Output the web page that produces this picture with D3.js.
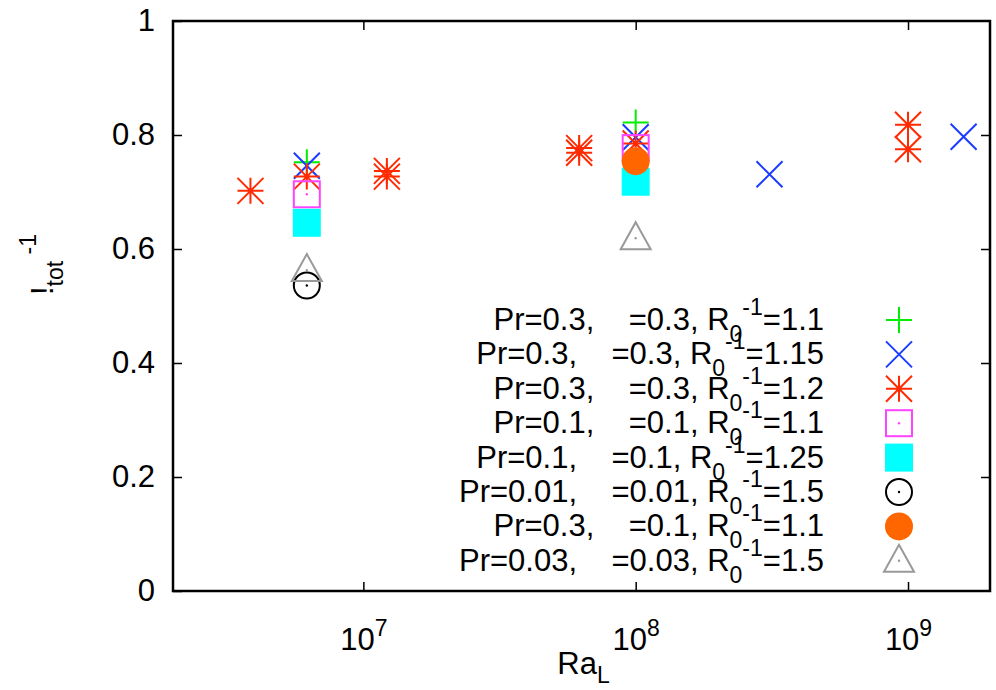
<!DOCTYPE html>
<html>
<head>
<meta charset="utf-8">
<script src="https://cdn.jsdelivr.net/npm/d3@7"></script>
<style>
  body { margin: 0; background: #fff; }
  text { font-family: "Liberation Sans", Arial, Helvetica, sans-serif; fill: #000; white-space: pre; }
</style>
</head>
<body>
<div id="chart"></div>
<script>
// Data: [Ra_L, value]
var plusGreen   = [[6.2e6, 0.752], [1e8, 0.822]];
var crossBlue   = [[6.2e6, 0.746], [1e8, 0.796], [3.1e8, 0.731], [1.6e9, 0.797]];
var starRed     = [[3.85e6, 0.702], [6.2e6, 0.727], [1.22e7, 0.737], [1.22e7, 0.727],
                   [6.2e7, 0.777], [6.2e7, 0.769], [1e8, 0.785], [1e9, 0.818], [1e9, 0.775]];
var boxMagenta  = [[6.2e6, 0.696], [1e8, 0.777]];
var boxCyan     = [[6.2e6, 0.646], [1e8, 0.718]];
var circBlack   = [[6.2e6, 0.536]];
var circOrange  = [[1e8, 0.754]];
var triGrey     = [[6.2e6, 0.563], [1e8, 0.619]];

var legendPr  = ["0.3", "0.3", "0.3", "0.1", "0.1", "0.01", "0.3", "0.03"];
var legendSc  = ["0.3", "0.3", "0.3", "0.1", "0.1", "0.01", "0.1", "0.03"];
var legendR   = ["1.1", "1.15", "1.2", "1.1", "1.25", "1.5", "1.1", "1.5"];

var yTicks = [0, 0.2, 0.4, 0.6, 0.8, 1];
var xTicks = [1e7, 1e8, 1e9];

var svgWidth = 996, svgHeight = 690;
var margin = { top: 21, right: 6, bottom: 99, left: 173 };
var width = svgWidth - margin.left - margin.right;
var height = svgHeight - margin.top - margin.bottom;

var svg = d3.select("#chart").append("svg")
  .attr("width", svgWidth)
  .attr("height", svgHeight);

var g = svg.append("g")
  .attr("transform", `translate(${margin.left}, ${margin.top})`);

var x = d3.scaleLog().domain([2e6, 2e9]).range([0, width]);
var y = d3.scaleLinear().domain([0, 1]).range([height, 0]);

// axes, ticks pointing inward, mirrored on top/right
var fs = 31, fsSmall = 23;
var yAxis = g.append("g")
  .call(d3.axisLeft(y).tickValues(yTicks).tickSizeInner(-9).tickSizeOuter(0).tickPadding(18)
    .tickFormat(d => d === 0 || d === 1 ? d3.format("d")(d) : d3.format(".1f")(d)));
yAxis.selectAll("text").style("font-size", fs + "px");

g.append("g")
  .attr("transform", `translate(${width}, 0)`)
  .call(d3.axisRight(y).tickValues(yTicks.slice(1, -1)).tickSizeInner(-9).tickSizeOuter(0).tickFormat(""));

var xAxis = g.append("g")
  .attr("transform", `translate(0, ${height})`)
  .call(d3.axisBottom(x).tickValues(xTicks).tickSizeInner(-9).tickSizeOuter(0).tickFormat(""));

g.append("g")
  .call(d3.axisTop(x).tickValues(xTicks).tickSizeInner(-9).tickSizeOuter(0).tickFormat(""));

// x tick labels as 10^n
xAxis.selectAll(".tick").each(function (d) {
  var t = d3.select(this).append("text")
    .attr("y", 59)
    .attr("text-anchor", "middle")
    .style("font-size", fs + "px");
  t.append("tspan").text("10");
  t.append("tspan").attr("dy", -14).style("font-size", fsSmall + "px").text(Math.round(Math.log10(d)));
});

svg.selectAll(".domain").attr("stroke", "none");
svg.selectAll(".tick line").attr("stroke", "#000").attr("stroke-width", 1.5);

// frame
g.append("rect")
  .attr("width", width).attr("height", height)
  .attr("fill", "none").attr("stroke", "#000").attr("stroke-width", 2.5);

// axis labels
var xl = svg.append("text")
  .attr("x", margin.left + width / 2 + 2)
  .attr("y", 674)
  .attr("text-anchor", "middle")
  .style("font-size", fs + "px");
xl.append("tspan").text("Ra");
xl.append("tspan").attr("dy", 9).style("font-size", fsSmall + "px").text("L");

var yl = svg.append("text")
  .attr("transform", "translate(53, 295) rotate(-90)")
  .style("font-size", fs + "px");
yl.append("tspan").text("!");
yl.append("tspan").attr("dy", 10).style("font-size", fsSmall + "px").text("tot");
yl.append("tspan").attr("dy", -27).style("font-size", fsSmall + "px").text(" -1");

// marker drawing
var S = 13;
function drawPlus(sel, color) {
  sel.append("path")
    .attr("d", `M${-S},0H${S}M0,${-S}V${S}`)
    .attr("stroke", color).attr("stroke-width", 2).attr("fill", "none");
}
function drawCross(sel, color) {
  sel.append("path")
    .attr("d", `M${-S},${-S}L${S},${S}M${-S},${S}L${S},${-S}`)
    .attr("stroke", color).attr("stroke-width", 2).attr("fill", "none");
}
function drawStar(sel, color) {
  sel.append("path")
    .attr("d", `M${-S},0H${S}M0,${-S}V${S}M${-S},${-S}L${S},${S}M${-S},${S}L${S},${-S}`)
    .attr("stroke", color).attr("stroke-width", 2).attr("fill", "none");
}
function drawBox(sel, color) {
  sel.append("rect").attr("x", -S).attr("y", -S).attr("width", 2 * S).attr("height", 2 * S)
    .attr("stroke", color).attr("stroke-width", 2).attr("fill", "none");
  sel.append("circle").attr("r", 1.2).attr("fill", color);
}
function drawFilledBox(sel, color) {
  sel.append("rect").attr("x", -S - 1).attr("y", -S - 1).attr("width", 2 * S + 2).attr("height", 2 * S + 2)
    .attr("fill", color);
}
function drawCircle(sel, color) {
  sel.append("circle").attr("r", S)
    .attr("stroke", color).attr("stroke-width", 2).attr("fill", "none");
  sel.append("circle").attr("r", 1.2).attr("fill", color);
}
function drawDisc(sel, color) {
  sel.append("circle").attr("r", S + 1).attr("fill", color);
}
function drawTri(sel, color) {
  sel.append("path")
    .attr("d", `M0,${-S - 3}L${S + 2},${S - 2}H${-S - 2}Z`)
    .attr("stroke", color).attr("stroke-width", 2).attr("fill", "none");
  sel.append("circle").attr("r", 1.2).attr("fill", color);
}

var series = [
  { data: plusGreen,  color: "#00ee00", draw: drawPlus },
  { data: crossBlue,  color: "#1a3cff", draw: drawCross },
  { data: starRed,    color: "#ff2a00", draw: drawStar },
  { data: boxMagenta, color: "#ff44ff", draw: drawBox },
  { data: boxCyan,    color: "#00ffff", draw: drawFilledBox },
  { data: circBlack,  color: "#000000", draw: drawCircle },
  { data: circOrange, color: "#ff6600", draw: drawDisc },
  { data: triGrey,    color: "#999999", draw: drawTri }
];

var legendTop = 320, legendStep = 34.4;

series.forEach(function (s, i) {
  g.selectAll(null)
    .data(s.data)
    .enter()
    .append("g")
    .attr("transform", d => `translate(${x(d[0])}, ${y(d[1])})`)
    .each(function () { s.draw(d3.select(this), s.color); });

  // legend entry
  var ly = legendTop + i * legendStep;
  var t = svg.append("text")
    .attr("x", 824)
    .attr("y", ly + 10)
    .attr("text-anchor", "end")
    .style("font-size", fs + "px");
  t.append("tspan").text(`Pr=${legendPr[i]},    =${legendSc[i]}, R`);
  t.append("tspan").attr("dy", 12).style("font-size", fsSmall + "px").text("0");
  t.append("tspan").attr("dy", -27).style("font-size", fsSmall + "px").text("-1");
  t.append("tspan").attr("dy", 15).text(`=${legendR[i]}`);

  var m = svg.append("g").attr("transform", `translate(899, ${ly})`);
  s.draw(m, s.color);
});
</script>
</body>
</html>
